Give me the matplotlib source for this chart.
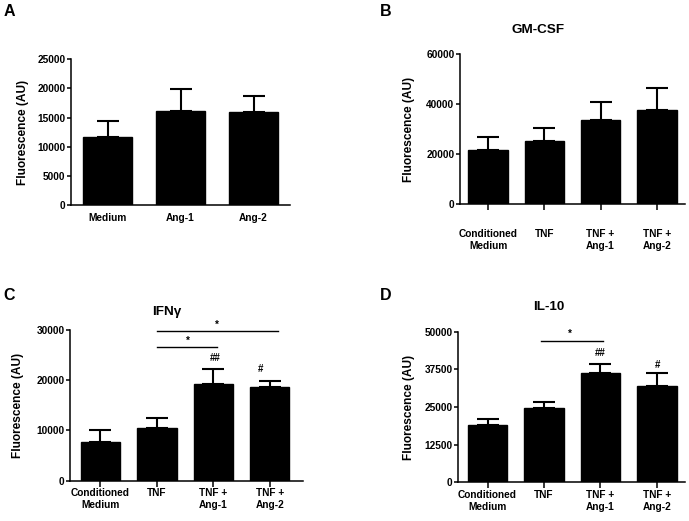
import numpy as np
import matplotlib.pyplot as plt
import matplotlib as mpl

mpl.rcParams['font.family'] = ['Liberation Sans', 'DejaVu Sans']
mpl.rcParams['font.weight'] = 'bold'
mpl.rcParams['axes.linewidth'] = 1.1

W, H = 689, 521

# panel A
labels_a = ['Medium', 'Ang-1', 'Ang-2']
mean_a = [11600, 16200, 16000]
err_a = [2800, 3650, 2750]

# panels B-D share the groups
labels_bcd = ['Conditioned\nMedium', 'TNF', 'TNF +\nAng-1', 'TNF +\nAng-2']
mean_b = [21600, 25300, 33900, 37600]
err_b = [5470, 5070, 6930, 8800]
mean_c = [7700, 10400, 19300, 18600]
err_c = [2390, 2000, 2850, 1330]
mean_d = [18900, 24800, 36300, 31900]
err_d = [2210, 1880, 2990, 4300]


def px_axes(fig, left, top, right, bottom):
    # pixel box -> figure fraction
    return fig.add_axes([left / W, 1 - bottom / H, (right - left) / W, (bottom - top) / H])


def bars(ax, labels, means, errs, yticks, xlim, width=0.7, ticklen=4, pad=1.5):
    x = np.arange(len(labels))
    ax.bar(x, means, width=width, color='black', edgecolor='black',
           yerr=[np.zeros(len(errs)), errs],
           error_kw=dict(ecolor='black', elinewidth=1.5, capsize=8, capthick=1.5))
    ax.set_xlim(*xlim)
    ax.set_ylim(0, yticks[-1])
    ax.set_yticks(yticks)
    ax.set_xticks(x)
    ax.set_xticklabels(labels, fontsize=7.3, fontweight='bold', linespacing=1.25)
    ax.tick_params(axis='y', labelsize=7.3, length=3, width=1.1, pad=1)
    ax.tick_params(axis='x', length=ticklen, width=1.1, pad=pad)
    for s in ['top', 'right']:
        ax.spines[s].set_visible(False)
    ax.set_ylabel('Fluorescence (AU)', fontsize=8.6, fontweight='bold')


def mark(ax, x, y, s):
    ax.text(x, y, s, ha='center', va='center', fontsize=7, fontweight='bold')


fig = plt.figure(figsize=(W / 100, H / 100), dpi=100)

axA = px_axes(fig, 71, 59.3, 290, 205)
bars(axA, labels_a, mean_a, err_a, [0, 5000, 10000, 15000, 20000, 25000],
     (-0.5, 2.5), width=0.67, ticklen=0, pad=5.5)
axA.yaxis.set_label_coords(-0.193, 0.5)

axB = px_axes(fig, 460, 54.3, 685, 204.3)
bars(axB, labels_bcd, mean_b, err_b, [0, 20000, 40000, 60000], (-0.5, 3.5), pad=14)
axB.yaxis.set_label_coords(-0.199, 0.5)
axB.text(0.347, 1.16, 'GM-CSF', transform=axB.transAxes, ha='center', va='center',
         fontsize=9.7, fontweight='bold')

axC = px_axes(fig, 70, 330, 303, 480.7)
bars(axC, labels_bcd, mean_c, err_c, [0, 10000, 20000, 30000], (-0.54, 3.59))
axC.yaxis.set_label_coords(-0.197, 0.5)
axC.text(0.416, 1.12, 'IFNγ', transform=axC.transAxes, ha='center', va='center',
         fontsize=9.7, fontweight='bold')
axC.plot([1.01, 3.15], [29900, 29900], color='black', lw=1.0, clip_on=False)
axC.plot([1.01, 2.07], [26600, 26600], color='black', lw=1.0, clip_on=False)
mark(axC, 2.07, 31000, '*')
mark(axC, 1.55, 27800, '*')
mark(axC, 2.03, 24500, '##')
mark(axC, 2.84, 22300, '#')

axD = px_axes(fig, 458.3, 331.7, 685, 482.3)
bars(axD, labels_bcd, mean_d, err_d, [0, 12500, 25000, 37500, 50000], (-0.52, 3.5))
axD.yaxis.set_label_coords(-0.191, 0.5)
axD.text(0.40, 1.165, 'IL-10', transform=axD.transAxes, ha='center', va='center',
         fontsize=9.7, fontweight='bold')
axD.plot([0.95, 2.04], [46900, 46900], color='black', lw=1.0, clip_on=False)
mark(axD, 1.46, 49200, '*')
mark(axD, 2.0, 42800, '##')
mark(axD, 3.02, 39000, '#')

# panel letters
for letter, xp, yp in [('A', 9, 12), ('B', 386, 12), ('C', 9, 295), ('D', 386, 295)]:
    fig.text(xp / W, 1 - yp / H, letter, ha='center', va='center', fontsize=11.5,
             fontweight='bold')

fig.savefig('out.png', dpi=100)
